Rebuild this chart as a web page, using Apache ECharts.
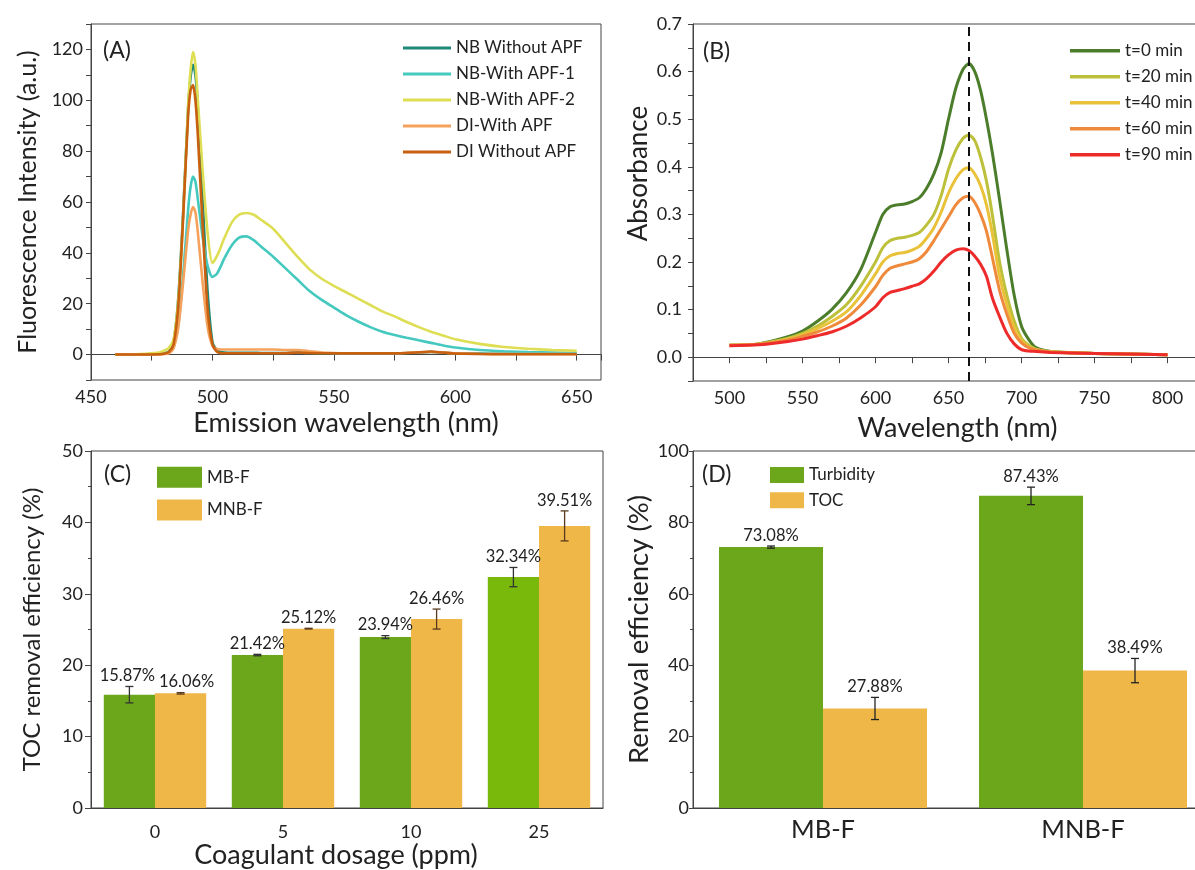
<!DOCTYPE html>
<html><head><meta charset="utf-8">
<script src="https://cdn.jsdelivr.net/npm/echarts@6/dist/echarts.min.js"></script>
<style>html,body{margin:0;padding:0;background:#fff}#c{width:1195px;height:870px}</style>
</head><body><div id="c"></div>
<script>
// ---------- Panel A: fluorescence ----------
const aWave = [460,470,478,480,482,484,486,488,490,491,492,493,494,496,498,500,502,505,508,511,514,517,520,525,530,535,540,545,550,555,560,565,570,575,580,585,590,595,600,610,620,630,640,650];
const aNBWithout = [0,0,0.2,0.5,1,5,23,57,97,109,114,110,97,60,25,5,1.5,0.8,0.7,0.7,0.7,0.7,0.6,0.6,0.6,0.8,0.6,0.5,0.5,0.5,0.5,0.5,0.5,0.5,0.6,0.8,1,0.7,0.5,0.4,0.3,0.3,0.3,0.3];
const aNBAPF1 = [0,0,0.3,0.5,1,3,12,32,57,66,70,68,61,46,35,30.5,32,38,43,46,46.5,45,42.5,38.5,34,29.5,25,21.5,18.5,15.5,13,10.8,9,7.7,6.6,5.6,4.6,3.6,2.8,1.8,1.3,1,0.8,0.6];
const aNBAPF2 = [0,0.2,0.8,1.5,2.5,6,22,55,98,112,119,114,100,72,48,36,39,46,52,55,55.7,55,53,49.5,44,38.5,33.5,29.8,27,24.5,22,19.5,17,15,12.8,10.8,9,7.5,6,4.2,3,2.3,1.8,1.5];
const aDIAPF = [0,0,0,0.2,0.5,2.5,11,29,49,55,58,56,48,28,11,3.5,2.2,2,2,2,2,2,2,2,1.8,1.8,1.3,0.8,0.6,0.5,0.5,0.5,0.5,0.5,0.7,0.9,1,0.8,0.5,0.3,0.2,0.2,0.2,0.2];
const aDIWithout = [0,0,0.1,0.3,1,4,20,55,94,104,106,100,86,50,18,4,1,0.5,0.5,0.5,0.5,0.5,0.5,0.5,0.5,0.8,0.6,0.5,0.5,0.5,0.5,0.5,0.5,0.5,0.6,0.9,1.2,0.8,0.4,0.2,0.1,0.1,0.1,0.1];
const aNames = ['NB Without APF','NB-With APF-1','NB-With APF-2','DI-With APF','DI Without APF'];

// ---------- Panel B: absorbance ----------
const bWave = [500,520,540,550,560,570,580,590,600,605,610,615,620,625,630,635,640,645,650,655,660,664,668,672,676,680,685,690,695,700,705,710,720,750,800];
const bT0  = [0.025,0.028,0.043,0.055,0.075,0.1,0.135,0.185,0.262,0.3,0.316,0.32,0.322,0.327,0.335,0.355,0.385,0.43,0.5,0.565,0.605,0.617,0.6,0.56,0.5,0.43,0.33,0.225,0.13,0.065,0.037,0.02,0.012,0.008,0.005];
const bT20 = [0.025,0.028,0.04,0.05,0.065,0.085,0.11,0.15,0.2,0.23,0.245,0.25,0.252,0.256,0.262,0.278,0.3,0.34,0.395,0.435,0.46,0.467,0.455,0.42,0.37,0.3,0.2,0.13,0.076,0.04,0.025,0.017,0.012,0.008,0.005];
const bT40 = [0.025,0.027,0.038,0.047,0.06,0.075,0.095,0.13,0.175,0.2,0.213,0.218,0.22,0.225,0.233,0.25,0.272,0.305,0.345,0.375,0.394,0.398,0.385,0.36,0.32,0.26,0.17,0.11,0.062,0.035,0.022,0.016,0.011,0.008,0.005];
const bT60 = [0.025,0.027,0.036,0.044,0.053,0.065,0.082,0.11,0.148,0.172,0.187,0.192,0.196,0.2,0.207,0.222,0.245,0.27,0.295,0.32,0.335,0.338,0.325,0.3,0.265,0.21,0.14,0.09,0.05,0.03,0.02,0.015,0.011,0.008,0.005];
const bT90 = [0.024,0.026,0.033,0.038,0.045,0.053,0.065,0.083,0.106,0.125,0.136,0.14,0.144,0.149,0.154,0.165,0.181,0.2,0.215,0.225,0.228,0.224,0.212,0.195,0.17,0.125,0.085,0.05,0.028,0.016,0.013,0.012,0.01,0.008,0.005];
const bNames = ['t=0 min','t=20 min','t=40 min','t=60 min','t=90 min'];
const bPeakLine = 664;

// ---------- Panel C: TOC removal vs dosage ----------
const cCats = ['0','5','10','25'];
const cMB = [15.87, 21.42, 23.94, 32.34];
const cMNB = [16.06, 25.12, 26.46, 39.51];
const cMBErr = [1.15, 0.1, 0.2, 1.35];
const cMNBErr = [0.1, 0.05, 1.4, 2.1];

// ---------- Panel D: removal efficiency ----------
const dCats = ['MB-F','MNB-F'];
const dTurb = [73.08, 87.43];
const dTOC = [27.88, 38.49];
const dTurbErr = [0.3, 2.45];
const dTOCErr = [3.1, 3.4];

const FONT = 'Lato';
const TXT = '#222';
const AX = '#444';

function pairs(xs, ys){ return xs.map((x,i)=>[x, ys[i]]); }

function errRender(shift, color, labelDx){
  return function(params, api){
    const idx = api.value(0), v = api.value(1), e = api.value(2);
    const bw = api.size([1,0])[0];
    const x = api.coord([idx, v])[0] + shift*bw;
    const yt = api.coord([idx, v+e])[1], yb = api.coord([idx, v-e])[1];
    const cap = 4;
    const st = {stroke: color, lineWidth: 1.3};
    const dx = (labelDx && labelDx[params.dataIndex]) || 0;
    return {type:'group', children:[
      {type:'line', shape:{x1:x,y1:yt,x2:x,y2:yb}, style:st},
      {type:'line', shape:{x1:x-cap,y1:yt,x2:x+cap,y2:yt}, style:st},
      {type:'line', shape:{x1:x-cap,y1:yb,x2:x+cap,y2:yb}, style:st},
      {type:'text', x:x+dx, y:yt-2, style:{text: v.toFixed(2)+'%', align:'center', verticalAlign:'bottom', fontSize:16.5, fontFamily:FONT, fill:TXT}}
    ]};
  };
}

const tickLab = {fontSize:18, color:TXT, fontFamily:FONT};
function nameSt(size, extra){ return Object.assign({fontSize:size, color:TXT, fontFamily:FONT}, extra||{}); }
const axLine = {lineStyle:{color:AX, width:1}};

function lineSeries(name, xs, ys, color, xi, w){
  return {name, type:'line', xAxisIndex:xi, yAxisIndex:xi, data:pairs(xs, ys), symbol:'none',
    smooth:0.25, lineStyle:{color, width:w}, itemStyle:{color}};
}

const aColors = ['#1d8a78','#45c9be','#dede55','#f5a25d','#c8600f'];
const aData = [aNBWithout, aNBAPF1, aNBAPF2, aDIAPF, aDIWithout];
const bColors = ['#4b7d2a','#bcc03a','#eac23a','#ef8a3c','#ee2b2b'];
const bData = [bT0, bT20, bT40, bT60, bT90];

const series = [];
aNames.forEach((n,i)=>series.push(lineSeries(n, aWave, aData[i], aColors[i], 0, 2.6)));
bNames.forEach((n,i)=>series.push(lineSeries(n, bWave, bData[i], bColors[i], 1, 3)));
series[5].markLine = {silent:true, symbol:['none','none'], label:{show:false},
  lineStyle:{color:'#111', type:[9,6], width:2}, data:[{xAxis:bPeakLine}]};

const GREEN = '#6ca61a', ORANGE = '#efb747';
series.push({name:'MB-F', type:'bar', xAxisIndex:2, yAxisIndex:2, barWidth:'40%', barGap:'0%',
  data: cMB.map((v,i)=> i===3 ? {value:v, itemStyle:{color:'#78b90c'}} : v), itemStyle:{color:GREEN}});
series.push({name:'MNB-F', type:'bar', xAxisIndex:2, yAxisIndex:2, barWidth:'40%', barGap:'0%',
  data: cMNB, itemStyle:{color:ORANGE}});
series.push({name:'errC1', type:'custom', xAxisIndex:2, yAxisIndex:2, z:5,
  data: cMB.map((v,i)=>[i, v, cMBErr[i]]), renderItem: errRender(-0.2, '#333', [-2,0,0,0]), encode:{x:0,y:1}});
series.push({name:'errC2', type:'custom', xAxisIndex:2, yAxisIndex:2, z:5,
  data: cMNB.map((v,i)=>[i, v, cMNBErr[i]]), renderItem: errRender(0.2, '#5a3a1e', [6,0,0,0]), encode:{x:0,y:1}});
series.push({name:'Turbidity', type:'bar', xAxisIndex:3, yAxisIndex:3, barWidth:'40%', barGap:'0%',
  data: dTurb, itemStyle:{color:GREEN}});
series.push({name:'TOC', type:'bar', xAxisIndex:3, yAxisIndex:3, barWidth:'40%', barGap:'0%',
  data: dTOC, itemStyle:{color:ORANGE}});
series.push({name:'errD1', type:'custom', xAxisIndex:3, yAxisIndex:3, z:5,
  data: dTurb.map((v,i)=>[i, v, dTurbErr[i]]), renderItem: errRender(-0.2, '#222'), encode:{x:0,y:1}});
series.push({name:'errD2', type:'custom', xAxisIndex:3, yAxisIndex:3, z:5,
  data: dTOC.map((v,i)=>[i, v, dTOCErr[i]]), renderItem: errRender(0.2, '#222'), encode:{x:0,y:1}});

const gridBase = {show:true, borderColor:AX, borderWidth:1, backgroundColor:'transparent', containLabel:false, outerBoundsMode:'none'};
const legTxt = {fontSize:17, color:TXT, fontFamily:FONT};

const option = {
  animation:false,
  backgroundColor:'#fff',
  textStyle:{fontFamily:FONT, color:TXT},
  grid:[
    Object.assign({left:91, top:24, width:510, height:356}, gridBase),
    Object.assign({left:693, top:24, width:511, height:357}, gridBase),
    Object.assign({left:91, top:451, width:512, height:357}, gridBase),
    Object.assign({left:693, top:451, width:520, height:357}, gridBase)
  ],
  xAxis:[
    {type:'value', gridIndex:0, min:450, max:660, interval:25, splitLine:{show:false}, axisLine:axLine,
     axisTick:{length:6, lineStyle:{color:AX}},
     axisLabel:Object.assign({margin:8, formatter:v=> v%50===0 ? String(v) : ''}, tickLab),
     name:'Emission wavelength (nm)', nameLocation:'middle', nameGap:29.5, nameTextStyle:nameSt(27)},
    {type:'value', gridIndex:1, min:475, max:825, interval:25, splitLine:{show:false}, axisLine:axLine,
     axisTick:{length:6, lineStyle:{color:AX}},
     axisLabel:Object.assign({margin:8, formatter:v=> (v-500)%50===0 ? String(v) : ''}, tickLab),
     name:'Wavelength (nm)', nameLocation:'middle', nameGap:33.5, nameTextStyle:nameSt(27, {padding:[0,0,0,18]})},
    {type:'category', gridIndex:2, data:cCats, axisLine:axLine,
     axisTick:{alignWithLabel:true, length:6, lineStyle:{color:AX}},
     axisLabel:Object.assign({margin:15}, tickLab),
     name:'Coagulant dosage (ppm)', nameLocation:'middle', nameGap:33.5, nameTextStyle:nameSt(27, {padding:[0,22,0,0]})},
    {type:'category', gridIndex:3, data:dCats, axisLine:axLine, axisTick:{show:false},
     axisLabel:{margin:9, fontSize:25.5, color:TXT, fontFamily:FONT}}
  ],
  yAxis:[
    {type:'value', gridIndex:0, min:-10, max:130, interval:10, splitLine:{show:false}, axisLine:{show:true, lineStyle:{color:AX}},
     axisTick:{show:true, length:5, lineStyle:{color:AX}},
     axisLabel:Object.assign({margin:8, formatter:v=> (v>=0 && v<=120 && v%20===0) ? String(v) : ''}, tickLab),
     name:'Fluorescence Intensity (a.u.)', nameLocation:'middle', nameGap:51, nameTextStyle:nameSt(25)},
    {type:'value', gridIndex:1, min:-0.05, max:0.7, interval:0.05, splitLine:{show:false}, axisLine:{show:true, lineStyle:{color:AX}},
     axisTick:{show:true, length:5, lineStyle:{color:AX}},
     axisLabel:Object.assign({margin:11, formatter:v=>{const r=Math.round(v*100); return (r>=0 && r%10===0) ? (r/100).toFixed(1) : '';}}, tickLab),
     name:'Absorbance', nameLocation:'middle', nameGap:41, nameTextStyle:nameSt(26, {padding:[0,0,0,58]})},
    {type:'value', gridIndex:2, min:0, max:50, interval:10, splitLine:{show:false}, axisLine:{show:true, lineStyle:{color:AX}},
     axisTick:{show:true, length:6, lineStyle:{color:AX}}, minorTick:{show:true, splitNumber:2, length:3, lineStyle:{color:AX}},
     axisLabel:Object.assign({margin:8}, tickLab),
     name:'TOC removal efficiency (%)', nameLocation:'middle', nameGap:46.5, nameTextStyle:nameSt(24)},
    {type:'value', gridIndex:3, min:0, max:100, interval:20, splitLine:{show:false}, axisLine:{show:true, lineStyle:{color:AX}},
     axisTick:{show:true, length:4, lineStyle:{color:AX}}, minorTick:{show:true, splitNumber:2, length:3, lineStyle:{color:AX}},
     axisLabel:Object.assign({margin:4}, tickLab),
     name:'Removal efficiency (%)', nameLocation:'middle', nameGap:40, nameTextStyle:nameSt(27.5)}
  ],
  legend:[
    {data:aNames, orient:'vertical', left:398, top:33, icon:'rect', itemWidth:48, itemHeight:3, itemGap:6,
     textStyle:Object.assign({lineHeight:20}, legTxt)},
    {data:bNames, orient:'vertical', left:1065, top:35.7, icon:'rect', itemWidth:50, itemHeight:3.5, itemGap:6, itemTextGap:1,
     textStyle:Object.assign({lineHeight:20}, legTxt)},
    {data:['MB-F','MNB-F'], orient:'vertical', left:152, top:461.8, icon:'rect', itemWidth:45, itemHeight:21, itemGap:11.7,
     textStyle:legTxt},
    {data:['Turbidity','TOC'], orient:'vertical', left:765, top:461.5, icon:'rect', itemWidth:34, itemHeight:16, itemGap:8.3,
     textStyle:legTxt}
  ],
  graphic:[
    {type:'text', left:103, top:39, style:{text:'(A)', fontSize:23, fill:TXT, fontFamily:FONT}},
    {type:'text', left:703, top:40, style:{text:'(B)', fontSize:23, fill:TXT, fontFamily:FONT}},
    {type:'text', left:104, top:463, style:{text:'(C)', fontSize:23, fill:TXT, fontFamily:FONT}},
    {type:'text', left:702, top:463, style:{text:'(D)', fontSize:23, fill:TXT, fontFamily:FONT}}
  ],
  series
};
const chart = echarts.init(document.getElementById('c'), null, {renderer:'canvas'});
chart.setOption(option);
</script></body></html>
